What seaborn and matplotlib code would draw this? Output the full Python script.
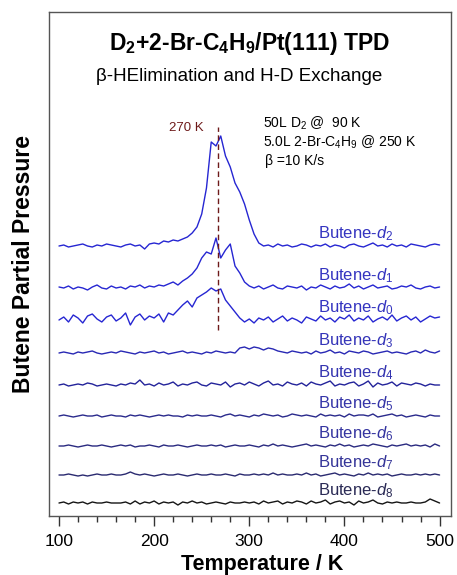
import numpy as np
import pandas as pd
import seaborn as sns
import matplotlib.pyplot as plt

# Temperatures (K) and butene isotopomer traces (signal, pixel-ish units)
temps = np.arange(100, 501, 5)
species = ["d2", "d1", "d0", "d3", "d4", "d5", "d6", "d7", "d8"]

d2 = [0, 1, -1, 0, 1, 2, 0, -1, 1, 0, 2, 1, 0, -1, 1, 2, 0, 1, -3, 2,
      3, 2, 5, 4, 6, 5, 7, 9,
      13, 19, 32, 58, 104, 100, 110, 90, 79, 63, 54, 42, 26, 12, 3,
      0, 1, -1, 2, 0, 1, -1, 0, 2, 1, -1, 1, 0, 2, -1, 1, 0, -2, 1, 2,
      0, -1, 1, 3, 0, 1, -1, 2, 0, 1, -1, 2, 1, 0, -1, 1, 2, 1]
d1 = [1, 0, 2, -1, 1, 0, -2, 1, 3, 0, -1, 2, 0, 1, -1, 2, 1, 3, 0, 2,
      1, 3, 2, 4, 6, 3, 7, 10,
      14, 20, 30, 36, 34, 50, 30, 38, 44, 22, 15, 6, 2,
      0, 2, -1, 1, 3, 0, -1, 2, 1, 0, 2, -2, 1, 0, 3, 1, -1, 2, 0, 1,
      4, 0, 2, -1, 1, 3, 0, 1, 2, -1, 0, 2, 1, 3, 0, -1, 1, 2, 0, 1]
d0 = [0, 3, -2, 5, 2, -3, 4, 6, 1, -2, 3, 5, -1, 2, 7, -5, 3, 6, 0, 4,
      2, 6, -2, 7, 5, 10, 15, 19,
      13, 22, 25, 28, 32, 29, 31, 20, 14, 8, 2,
      -2, 1, -3, 2, 0, 3, -2, 1, 4, -1, 2, 0, -3, 3, 1, -1, 4, 0, 2, -2,
      3, 1, 5, -1, 2, 0, 4, -2, 1, 3, 0, 5, -1, 2, 4, 0, 3, -2, 1, 4, 2, 3]
d3 = [0, 1, 0, -1, 1, 0, 1, 2, 0, -1, 0, 1, 0, 2, 1, 0, -1, 1, 0, 1,
      2, 0, 1, -1, 0, 1, 2, 0, 1, 0, -1, 1, 0, 2, 1, 0, 1, 0,
      5, 6, 4, 6, 5, 3, 5, 4, 2,
      1, 0, 2, 1, 0, 1, -1, 2, 0, 1, 3, 0, 1, -1, 2, 1, 0, 2, 1, -1,
      0, 1, 2, 0, 1, 0, -1, 1, 2, 0, 3, 1, 0, 2]
d4 = [0, 1, -1, 0, 1, 0, 2, 1, -1, 0, 1, 0, -1, 1, 0, 2, 1, 5, 0, 1,
      -1, 2, 0, 1, 3, -1, 1, 0, 2, 3, 0, -1, 2, 1, 0, 3, -2, 1, 2, 0,
      3, 1, -1, 2, 4, 0, 1, -1, 3, 1, 0, 2, -1, 3, 1, 0, 2, 4, -1, 1,
      0, 2, 3, -1, 1, 4, -2, 2, 0, 1, 3, -1, 2, 1, 0, 2, 1, -1, 1, 0, 0]
d5 = [0, 1, 0, -1, 0, 1, 0, 0, 1, -1, 0, 1, 0, 0, -1, 1, 0, 1, 0, -1,
      0, 1, 0, 1, 0, 0, -1, 1, 0, 1, 0, 0, 1, 0, -1, 1, 2, 0, 1, 0,
      -1, 1, 0, 2, 1, 0, 1, -1, 0, 2, 1, 0, 1, 0, -1, 2, 0, 1, 0, 1,
      -1, 2, 0, 1, 1, 0, 2, -1, 0, 1, 2, 0, 1, -1, 0, 1, 0, -1, 1, 0, 0]
d6 = [0, 0, 1, 0, -1, 0, 1, 0, 0, 1, 0, -1, 0, 1, 0, 1, -1, 0, 0, 1,
      0, -1, 1, 0, 0, 1, 0, -1, 0, 1, 0, 0, 1, 0, 1, -1, 0, 1, 0, 0,
      1, 0, -1, 1, 0, 2, 0, 1, 0, -1, 0, 1, 2, 0, 1, 0, -1, 1, 0, 2,
      0, 1, -1, 0, 1, 0, 2, 1, 0, -1, 1, 0, 1, 2, 0, 1, 0, 1, -1, 2, 0]
d7 = [0, 0, 1, 0, -1, 0, -1, 0, 1, 0, 0, 1, 0, 0, 1, 3, 1, 0, 1, 0,
      -1, 0, 1, 0, 0, 1, 0, -1, 0, 1, 0, 0, 1, 0, 0, 1, 0, -1, 1, 0,
      0, 1, 0, 1, 0, 2, 0, 1, 0, 0, 1, 0, 2, 0, 1, -1, 0, 1, 2, 0,
      1, 0, -1, 1, 0, 2, 0, 1, 0, 1, -1, 0, 1, 0, 0, 1, 0, 1, 0, 1, 0]
d8 = [0, 1, -1, 1, 0, 1, -1, 1, 0, 0, 1, 0, 0, 0, 1, -1, 2, -1, 1, 0,
      2, -1, 1, 0, 1, -2, 1, 0, 2, 0, 1, -1, 0, 1, 0, -1, 1, 0, 0, 1,
      0, 1, -1, 2, 0, 1, 2, -1, 1, 0, 2, 1, -1, 2, 0, 1, 3, -1, 1, 2,
      0, 1, -2, 2, 0, 1, 3, 0, -1, 1, 0, 1, 0, 0, 1, 0, 0, 1, 4, 2, 0]
traces = [d2, d1, d0, d3, d4, d5, d6, d7, d8]

# layout: vertical stacking offsets and colours
offsets = [270, 228, 196, 163, 131, 100, 70, 41, 13]
colors = ["#2626d2", "#2626d2", "#2626d2", "#2828b4", "#23239a",
          "#2a2a8c", "#2a2a80", "#2a2a70", "#151515"]
label_colors = ["#3434c0", "#3434c0", "#3434c0", "#3434b8", "#3434b0",
                "#3434a8", "#3434a0", "#343498", "#2a2a55"]

rows = []
for name, tr, off in zip(species, traces, offsets):
    for t, v in zip(temps, tr):
        rows.append({"T": t, "signal": v + off, "species": name})
df = pd.DataFrame(rows)

sns.set_theme(style="white")
plt.rcParams["font.family"] = ["Liberation Sans", "DejaVu Sans"]
plt.rcParams["mathtext.fontset"] = "custom"
plt.rcParams["mathtext.rm"] = "Liberation Sans"
plt.rcParams["mathtext.it"] = "Liberation Sans:italic"
plt.rcParams["mathtext.bf"] = "Liberation Sans:bold"
plt.rcParams["text.color"] = "black"
plt.rcParams["axes.labelcolor"] = "black"
plt.rcParams["xtick.labelcolor"] = "black"

fig = plt.figure(figsize=(4.57, 5.75), dpi=100)
ax = fig.add_axes([49 / 457, 1 - 516 / 575, 402 / 457, 504 / 575])

sns.lineplot(data=df, x="T", y="signal", hue="species", hue_order=species,
             palette=dict(zip(species, colors)), legend=False, lw=1.0, ax=ax)

for name, off, lc in zip(species, offsets, label_colors):
    ax.text(372, off + 12, r"Butene-$\mathit{d}_{\mathit{" + name[1] + "}}$",
            color=lc, fontsize=12, va="center", ha="left")

# peak marker
ax.plot([267, 267], [186, 389], ls=(0, (4, 2.5)), color="#6e1a1a", lw=1.0)
fig.text(0.407, 0.777, "270 K", color="#6e1a1a", fontsize=9.5, ha="center", va="center")

fig.text(0.5755, 0.785, r"50L D$_2$ @  90 K", fontsize=10, va="center")
fig.text(0.5755, 0.753, r"5.0L 2-Br-C$_4$H$_9$ @ 250 K", fontsize=10, va="center")
fig.text(0.5800, 0.720, r"β =10 K/s", fontsize=10, va="center")

fig.text(0.547, 0.925, r"D$_\mathbf{2}$+2-Br-C$_\mathbf{4}$H$_\mathbf{9}$/Pt(111) TPD",
         fontsize=16.5, fontweight="bold", ha="center", va="center")
fig.text(0.524, 0.867, "β-HElimination and H-D Exchange", fontsize=13.5,
         ha="center", va="center")

ax.set_xlim(89.5, 512)
ax.set_ylim(0, 504)
ax.set_xticks([100, 200, 300, 400, 500])
ax.set_xticks(np.arange(100, 501, 20), minor=True)
ax.set_yticks([])
ax.tick_params(axis="x", which="major", direction="out", length=7, width=1,
               labelsize=12.5, bottom=True, pad=6, color="#333333")
ax.tick_params(axis="x", which="minor", direction="out", length=4, width=1,
               bottom=True, color="#333333")
ax.set_xlabel("Temperature / K", fontsize=15.5, fontweight="bold")
ax.xaxis.set_label_coords(0.53, -0.075)
ax.set_ylabel("Butene Partial Pressure", fontsize=16.5, fontweight="bold", labelpad=10)
for s in ax.spines.values():
    s.set_color("#555555")
    s.set_linewidth(1.0)

fig.savefig("out.png", dpi=100)
